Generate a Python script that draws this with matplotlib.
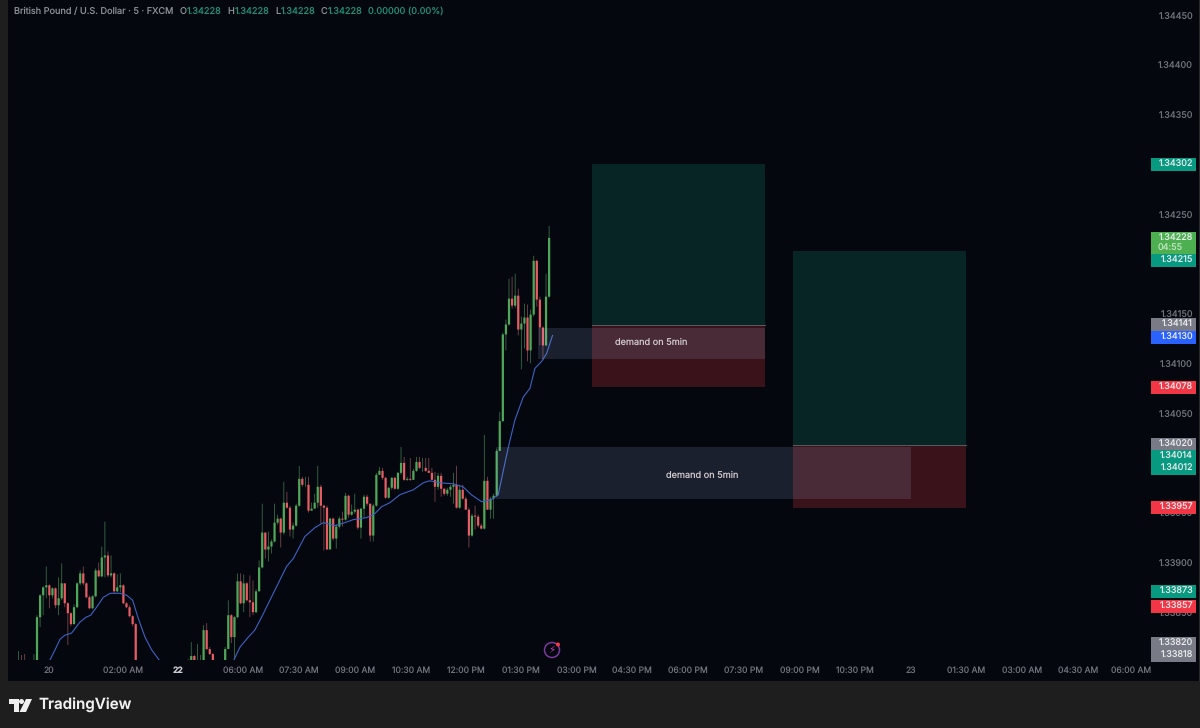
import numpy as np
import matplotlib
matplotlib.use("Agg")
import matplotlib.pyplot as plt
from matplotlib.patches import Rectangle, Circle, Polygon

nan = np.nan
closes = [1.33798,1.33795,1.33790,nan,nan,1.33795,1.33847,1.33869,1.33877,1.33879,
1.33869,1.33876,1.33859,1.33866,1.33881,1.33861,1.33851,1.33840,1.33857,1.33881,
1.33891,1.33881,1.33867,1.33856,1.33868,1.33894,1.33888,1.33907,1.33909,1.33889,
1.33891,1.33873,1.33877,1.33879,1.33861,1.33857,1.33848,1.33840,1.33770,
nan,nan,nan,nan,nan,nan,nan,nan,nan,nan,nan,nan,nan,nan,nan,nan,
1.33795,1.33808,1.33795,1.33798,1.33800,1.33834,1.33815,1.33810,1.33795,nan,nan,nan,
1.33815,1.33849,1.33827,1.33847,1.33883,1.33861,1.33881,1.33864,1.33862,1.33852,1.33873,1.33897,
1.33932,1.33915,1.33918,1.33923,1.33942,1.33946,1.33932,1.33962,1.33957,1.33935,1.33939,1.33959,
1.33986,1.33980,1.33980,1.33954,1.33956,1.33962,1.33978,1.33959,1.33957,1.33915,1.33946,1.33926,
1.33938,1.33946,1.33945,1.33969,1.33950,1.33953,1.33955,1.33937,1.33956,1.33968,1.33961,1.33929,
1.33959,1.33990,1.33994,1.33987,1.33967,1.33977,1.33987,1.33976,1.33992,1.34002,1.33985,1.33986,
1.33985,1.33994,1.34003,1.33997,1.33997,1.33994,1.33992,1.33985,1.33978,1.33989,1.33976,1.33971,
1.33975,1.33978,1.33980,1.33957,1.33975,1.33966,1.33955,1.33929,1.33949,1.33948,1.33939,1.33936,
1.33984,1.33955,1.33966,1.33969,1.34014,1.34044,1.34131,1.34141,1.34167,1.34160,1.34170,1.34136,
1.34142,1.34148,1.34115,1.34151,1.34205,1.34166,1.34138,1.34120,1.34169,1.34228]
highs = [1.33813,1.33809,1.33810,nan,nan,1.33810,1.33849,1.33870,1.33878,1.33898,
1.33880,1.33877,1.33877,1.33887,1.33901,1.33881,1.33862,1.33852,1.33860,1.33882,
1.33894,1.33898,1.33882,1.33869,1.33869,1.33896,1.33902,1.33918,1.33943,1.33913,
1.33909,1.33892,1.33890,1.33891,1.33880,1.33862,1.33859,1.33849,1.33841,
nan,nan,nan,nan,nan,nan,nan,nan,nan,nan,nan,nan,nan,nan,nan,nan,
1.33805,1.33822,1.33809,1.33820,1.33809,1.33839,1.33841,1.33817,1.33811,nan,nan,nan,
1.33817,1.33864,1.33850,1.33848,1.33891,1.33891,1.33890,1.33882,1.33889,1.33884,1.33875,1.33904,
1.33961,1.33932,1.33933,1.33925,1.33961,1.33950,1.33947,1.33983,1.33973,1.33959,1.33942,1.33961,
1.33999,1.33988,1.33988,1.33988,1.33962,1.33971,1.33999,1.33980,1.33960,1.33959,1.33947,1.33947,
1.33940,1.33948,1.33953,1.33972,1.33970,1.33960,1.33971,1.33956,1.33957,1.33970,1.33970,1.33961,
1.33961,1.33992,1.33998,1.33997,1.33988,1.33978,1.33988,1.33988,1.33993,1.34018,1.34008,1.33988,
1.34007,1.33996,1.34008,1.34008,1.34007,1.34007,1.34007,1.33997,1.33993,1.33992,1.33992,1.33977,
1.33977,1.33980,1.33992,1.33999,1.33980,1.33980,1.33968,1.33957,1.33951,1.33959,1.33950,1.33941,
1.34030,1.33988,1.33968,1.33971,1.34016,1.34053,1.34133,1.34146,1.34187,1.34189,1.34192,1.34177,
1.34149,1.34162,1.34161,1.34156,1.34210,1.34206,1.34169,1.34139,1.34192,1.34240]
lows = [1.33780,1.33780,1.33775,nan,nan,1.33780,1.33780,1.33837,1.33849,1.33866,
1.33856,1.33866,1.33856,1.33849,1.33864,1.33857,1.33819,1.33838,1.33840,1.33856,
1.33879,1.33879,1.33866,1.33855,1.33855,1.33867,1.33887,1.33887,1.33887,1.33887,
1.33887,1.33871,1.33872,1.33872,1.33860,1.33856,1.33847,1.33838,1.33770,
nan,nan,nan,nan,nan,nan,nan,nan,nan,nan,nan,nan,nan,nan,nan,nan,
1.33780,1.33780,1.33780,1.33780,1.33780,1.33780,1.33814,1.33809,1.33780,nan,nan,nan,
1.33780,1.33816,1.33821,1.33805,1.33846,1.33860,1.33852,1.33863,1.33847,1.33849,1.33851,1.33873,
1.33896,1.33906,1.33903,1.33911,1.33922,1.33940,1.33917,1.33930,1.33956,1.33928,1.33926,1.33938,
1.33958,1.33978,1.33978,1.33952,1.33955,1.33960,1.33957,1.33941,1.33914,1.33915,1.33916,1.33924,
1.33916,1.33936,1.33938,1.33944,1.33947,1.33949,1.33951,1.33935,1.33926,1.33947,1.33959,1.33923,
1.33923,1.33958,1.33990,1.33985,1.33966,1.33966,1.33975,1.33975,1.33975,1.33990,1.33984,1.33984,
1.33984,1.33985,1.33993,1.33996,1.33993,1.33993,1.33992,1.33985,1.33963,1.33975,1.33968,1.33969,
1.33969,1.33968,1.33961,1.33956,1.33956,1.33965,1.33955,1.33917,1.33928,1.33935,1.33937,1.33935,
1.33935,1.33955,1.33946,1.33946,1.33968,1.34014,1.34043,1.34115,1.34140,1.34157,1.34158,1.34130,
1.34096,1.34117,1.34104,1.34102,1.34149,1.34159,1.34120,1.34105,1.34119,1.34168]

ma_bars = [10.2,11.8,13.5,15.1,17.2,19.9,21.9,23.4,25.3,27.5,29.7,32.9,35.1,37,38.8,41,43.2,45.6,47,
None,
67,69.8,71.8,74.5,76.6,78.8,82.6,86.9,89.1,92.8,96.1,98.8,102.6,105.8,108.5,112.8,115.5,117.7,120.4,123.6,
128,131.2,133.3,136.6,140.9,144.1,146.8,150.1,153.3,155.5,157.2,158.8,160.9,163.6,165.8,167.4,169.6,171.2,173.1]
ma_values = [1.33804,1.33814,1.33825,1.33829,1.33831,1.33842,1.33847,1.33849,1.33857,1.33867,1.33871,1.33871,1.33869,1.33864,1.33846,1.33827,1.33814,1.33804,1.33790,
None,
1.33785,1.33804,1.33817,1.33827,1.33834,1.33847,1.33871,1.33898,1.33906,1.33928,1.33937,1.33942,1.33939,1.33942,1.33945,1.33947,1.33951,1.33958,1.33962,1.33970,
1.33975,1.33982,1.33984,1.33982,1.33981,1.33978,1.33970,1.33963,1.33965,1.33970,1.33995,1.34018,1.34045,1.34068,1.34077,1.34097,1.34104,1.34112,1.34130]

time_ticks = [49,123,178,243,299,355,411,466,521,577,632,688,744,800,855,911,966,1022,1078,1131]
time_labels = ["20","02:00 AM","22","06:00 AM","07:30 AM","09:00 AM","10:30 AM","12:00 PM","01:30 PM","03:00 PM","04:30 PM","06:00 PM","07:30 PM","09:00 PM","10:30 PM","23","01:30 AM","03:00 AM","04:30 AM","06:00 AM"]
price_ticks = [1.34450,1.34400,1.34350,1.34250,1.34200,1.34150,1.34100,1.34050,1.33950,1.33900,1.33850]
price_tick_labels = ["1.34450","1.34400","1.34350","1.34250","1.34200","1.34150","1.34100","1.34050","1.33950","1.33900","1.33850"]
tag_texts = ["1.34302","1.34228","04:55","1.34215","1.34141","1.34130","1.34078","1.34020","1.34014","1.34012","1.33957","1.33873","1.33857","1.33820","1.33818"]
tag_kinds = ["teal","lime","lime","teal","grey","blue","red","grey","teal","teal","red","teal","red","grey","grey"]
tag_rows = [164,238,248,260,324,337,387,444,456,468,507,591,606,643,655]
position_bars = [(185.9,242.0),(251.0,307.1)]
position_prices = [(1.34302,1.34141,1.34078),(1.34215,1.34020,1.33957)]
zone_bars = [(168.4,242.0),(154.8,289.3)]
zone_prices = [(1.34138,1.34106),(1.34018,1.33966)]
zone_text = ["demand on 5min","demand on 5min"]
zone_text_at = [(205,1.34123),(221.6,1.33989)]

BG="#05070e"; OUTER="#1e1e1e"
plt.rcParams['font.family']=['Inter','DejaVu Sans']
plt.rcParams['text.hinting']='none'
plt.rcParams['text.hinting_factor']=1
fig=plt.figure(figsize=(12,7.28),dpi=100,facecolor=OUTER)
W,H=1200,728
ov=fig.add_axes([0,0,1,1],zorder=0); ov.set_xlim(0,W); ov.set_ylim(H,0); ov.axis('off')
ov.add_patch(Rectangle((8,0),1191,681,fc=BG,ec='none'))
ov.add_patch(Rectangle((1199,0),1,681,fc="#2a2a2a",ec='none'))

ax=fig.add_axes([8/W,1-660/H,(1150-8)/W,660/H],zorder=1)
ax.patch.set_alpha(0)
ax.set_xlim((8-18.5)/3.085,(1150-18.5)/3.085)
ax.set_ylim(1.33804,1.34467)
ax.axis('off')

c=np.array(closes,float); h=np.array(highs,float); l=np.array(lows,float)
o=np.r_[1.33770,c[:-1]]
o=np.where(np.isnan(o),1.33770,o)
idx=np.arange(len(c))
up=c>=o
GREEN="#4fa85a"; RED="#e85c64"
w1=ax.vlines(idx[up],l[up],h[up],color="#386b44",lw=0.6,zorder=2)
w2=ax.vlines(idx[~up],l[~up],h[~up],color="#7c444b",lw=0.6,zorder=2)
w1.set_snap(False); w2.set_snap(False)
b1=ax.bar(idx[up],(c-o)[up],bottom=o[up],width=0.72,color=GREEN,lw=0,zorder=3)
b2=ax.bar(idx[~up],(c-o)[~up],bottom=o[~up],width=0.72,color=RED,lw=0,zorder=3)
for p in list(b1)+list(b2):
    p.set_snap(False)

sp=ma_bars.index(None)
ax.plot(ma_bars[:sp],ma_values[:sp],color="#3d62c4",lw=0.8,zorder=4)
ax.plot(ma_bars[sp+1:],ma_values[sp+1:],color="#3d62c4",lw=0.8,zorder=4)

for (x0,x1),(tp,en,sl) in zip(position_bars,position_prices):
    ax.add_patch(Rectangle((x0,en),x1-x0,tp-en,fc="#062524",ec='none',zorder=1))
    ax.add_patch(Rectangle((x0,sl),x1-x0,en-sl,fc="#391319",ec='none',zorder=1))
    ax.plot([x0,x1],[en,en],color="#5f5a5e",lw=0.7,zorder=1.5)
for (x0,x1),(a,b) in zip(zone_bars,zone_prices):
    ax.add_patch(Rectangle((x0,b),x1-x0,a-b,fc=(175/255,200/255,1.0,0.135),ec='none',zorder=5))
for t,(x,y) in zip(zone_text,zone_text_at):
    ax.text(x,y,t,color="#cfc8cc",fontsize=6.6,ha='center',va='center',zorder=6)

# price scale, time scale, tags
for p,t in zip(price_ticks,price_tick_labels):
    yy=(1.34467-p)/1.005e-5
    ov.text(1193,yy,t,color="#6f727a",fontsize=6.5,ha='right',va='center')
for x,t in zip(time_ticks,time_labels):
    bold=t in("22",)
    tx=ov.text(x,671,t,color="#c9cbd0" if bold else "#6f727a",fontsize=6.2,ha='center',va='center',fontweight='bold' if bold else 'normal',zorder=1)
    tx.set_clip_path(Rectangle((8,660),1142,21,transform=ov.transData))
cols={"teal":"#089981","lime":"#4caf50","grey":"#787b86","blue":"#2962ff","red":"#f23645"}
for t,k,y in zip(tag_texts,tag_kinds,tag_rows):
    ov.add_patch(Rectangle((1151,y-6.5),45,13,fc=cols[k],ec='none',zorder=3))
    ov.text(1193 if t!="04:55" else 1158,y+0.5,t,color="#e6e8ea" if t!="04:55" else "#bfe3c0",fontsize=6.5,ha='right' if t!="04:55" else 'left',va='center',zorder=4)

# legend line
hdr=[("British Pound / U.S. Dollar · 5 · FXCM",14,"#8b8e95"),("O",180,"#8b8e95"),("1.34228",187,"#1f8f76"),("H",227,"#8b8e95"),("1.34228",234.5,"#1f8f76"),("L",275,"#8b8e95"),("1.34228",281,"#1f8f76"),("C",321,"#8b8e95"),("1.34228",328,"#1f8f76"),("0.00000 (0.00%)",368,"#1f8f76")]
for t,x,cc in hdr:
    ov.text(x,11,t,color=cc,fontsize=6.6,ha='left',va='center',zorder=5)

# lightning marker
ov.add_patch(Circle((552,650),7.5,fc=BG,ec="#7a3a9c",lw=1.1,zorder=5))
ov.text(552,650,"\u26a1",color="#c83fc0",fontsize=7,ha='center',va='center',family='DejaVu Sans',zorder=6)
ov.add_patch(Circle((558,644.5),2,fc="#f23645",ec='none',zorder=7))

# logo
ov.add_patch(Polygon([(9,699),(19,699),(19,712),(14,712),(14,704),(9,704)],fc="#f0f0f0",ec='none'))
ov.add_patch(Circle((21.5,701.5),2.5,fc="#f0f0f0",ec='none'))
ov.add_patch(Polygon([(26,699),(32,699),(26,712),(19.5,712)],fc="#f0f0f0",ec='none'))
ov.text(38,705,"TradingView",color="#f0f0f0",fontsize=10.9,fontweight='semibold',ha='left',va='center')

fig.savefig("out.png",dpi=100,facecolor=OUTER)
